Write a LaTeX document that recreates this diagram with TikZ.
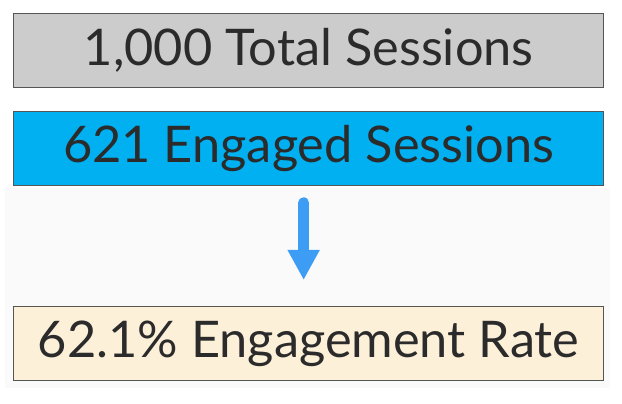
\documentclass[tikz,border=0pt]{standalone}
\usepackage{fontspec}
\setmainfont{Lato}
\usetikzlibrary{arrows.meta}
\definecolor{boxline}{HTML}{555555}
\definecolor{grayfill}{HTML}{CCCCCC}
\definecolor{bluefill}{HTML}{00B0F0}
\definecolor{beigefill}{HTML}{FDF0D9}
\definecolor{txt}{HTML}{2B2B2B}
\definecolor{arrowblue}{HTML}{3D9DF5}
\definecolor{bgshade}{HTML}{FAFAFA}
\tikzset{
  statbox/.style={draw=boxline, line width=1.3pt, minimum width=590pt, minimum height=74pt,
    inner sep=0pt, anchor=north west, text=txt, font=\fontsize{50.5}{54}\selectfont},
  flowarrow/.style={draw=arrowblue, line width=11pt, line cap=round,
    -{Triangle[width=30pt,length=30pt]}}
}
\begin{document}
\begin{tikzpicture}[x=1pt,y=1pt]
\useasboundingbox (0,0) rectangle (622,404);
\fill[white] (0,0) rectangle (622,404);
\fill[bgshade] (5,16) rectangle (610,216);
\node[statbox, fill=grayfill] (total) at (13,391) {1,000 Total Sessions};
\node[statbox, fill=bluefill] (engaged) at (13,293) {621 Engaged Sessions};
\node[statbox, fill=beigefill] (rate) at (13,98) {62.1\% Engagement Rate};
\draw[flowarrow] ([xshift=-5pt,yshift=-16.5pt]engaged.south) -- ([xshift=-5pt,yshift=26pt]rate.north);
\end{tikzpicture}
\end{document}
